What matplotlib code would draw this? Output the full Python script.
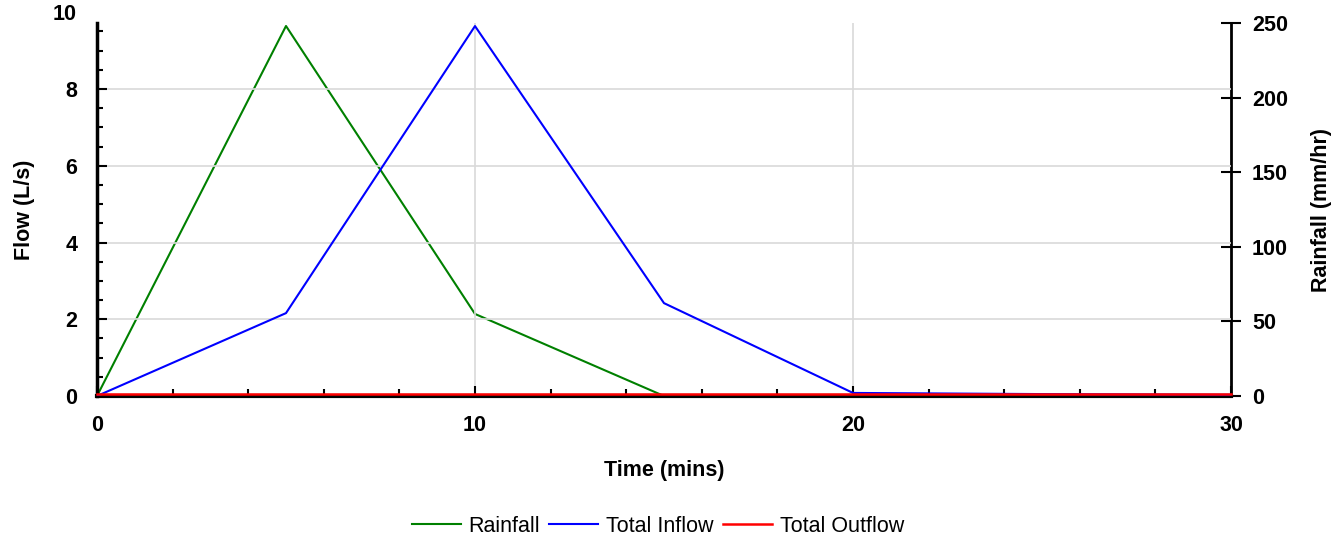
import matplotlib
matplotlib.use("Agg")
import matplotlib.pyplot as plt
from matplotlib.ticker import MultipleLocator

plt.rcParams['font.family'] = ['Liberation Sans', 'DejaVu Sans']

# data
time = [0, 5, 10, 15, 20, 25, 30]
rainfall = [0, 248, 55, 0, 0, 0, 0]          # mm/hr, right axis
inflow = [0, 2.16, 9.64, 2.42, 0.08, 0.05, 0.03]  # L/s
outflow = [0.05, 0.05, 0.05, 0.05, 0.05, 0.05, 0.05]  # L/s

FS = 15.5

fig = plt.figure(figsize=(13.43, 5.4), dpi=100)
ax = fig.add_axes([97 / 1343, 1 - 396 / 540, (1231 - 97) / 1343, (396 - 23) / 540])
ax2 = ax.twinx()

ax.set_xlim(0, 30)
ax.set_ylim(0, 9.72)
ax2.set_ylim(0, 250)

l1, = ax2.plot(time, rainfall, color='#008000', lw=1.5, label='Rainfall')
l2, = ax.plot(time, inflow, color='#0000ff', lw=1.5, label='Total Inflow', zorder=3)
l3, = ax.plot(time, outflow, color='#ff0000', lw=1.8, label='Total Outflow',
              clip_on=False, zorder=4)
ax.set_zorder(ax2.get_zorder() + 1)
ax.patch.set_visible(False)

# grid
for y in [2, 4, 6, 8]:
    ax.axhline(y, color='#d9d9d9', lw=1.2, zorder=0)
for x in [10, 20]:
    ax.axvline(x, color='#d9d9d9', lw=1.2, zorder=0)

# ticks
ax.xaxis.set_major_locator(MultipleLocator(10))
ax.xaxis.set_minor_locator(MultipleLocator(2))
ax.yaxis.set_major_locator(MultipleLocator(2))
ax.yaxis.set_minor_locator(MultipleLocator(0.5))
ax.tick_params(axis='both', which='both', direction='in', width=1.5)
ax.tick_params(axis='x', which='major', length=7, pad=14)
ax.tick_params(axis='x', which='minor', length=5)
ax.tick_params(axis='y', which='major', length=7, pad=14)
ax.tick_params(axis='y', which='minor', length=4.5)
ax.tick_params(right=False, top=False, which='both')
ax.annotate('10', xy=(0, 10), xycoords=('axes fraction', 'data'),
            xytext=(-20, -2), textcoords='offset pixels',
            ha='right', va='center', fontsize=FS, fontweight='bold',
            annotation_clip=False)

ax2.yaxis.set_major_locator(MultipleLocator(50))
ax2.tick_params(axis='y', direction='inout', length=14, width=1.5, pad=8)

for lab in ax.get_xticklabels() + ax.get_yticklabels() + ax2.get_yticklabels():
    lab.set_fontsize(FS)
    lab.set_fontweight('bold')

ax.spines['top'].set_visible(False)
ax2.spines['top'].set_visible(False)
ax.spines['left'].set_linewidth(2.5)
ax.spines['bottom'].set_linewidth(3)
ax2.spines['right'].set_linewidth(2)
ax.spines['right'].set_visible(False)
ax2.spines['left'].set_visible(False)
ax2.spines['bottom'].set_visible(False)

ax.set_xlabel('Time (mins)', fontsize=FS, fontweight='bold', labelpad=17)
ax.set_ylabel('Flow (L/s)', fontsize=FS, fontweight='bold', labelpad=22)
ax2.set_ylabel('Rainfall (mm/hr)', fontsize=FS, fontweight='bold', labelpad=17)

fig.legend([l1, l2, l3], ['Rainfall', 'Total Inflow', 'Total Outflow'],
           loc='center', bbox_to_anchor=(658 / 1343, 1 - 526 / 540), ncol=3,
           frameon=False, fontsize=FS, handlelength=2.28, columnspacing=0.42,
           handletextpad=0.37)

fig.savefig('out.png', dpi=100)
